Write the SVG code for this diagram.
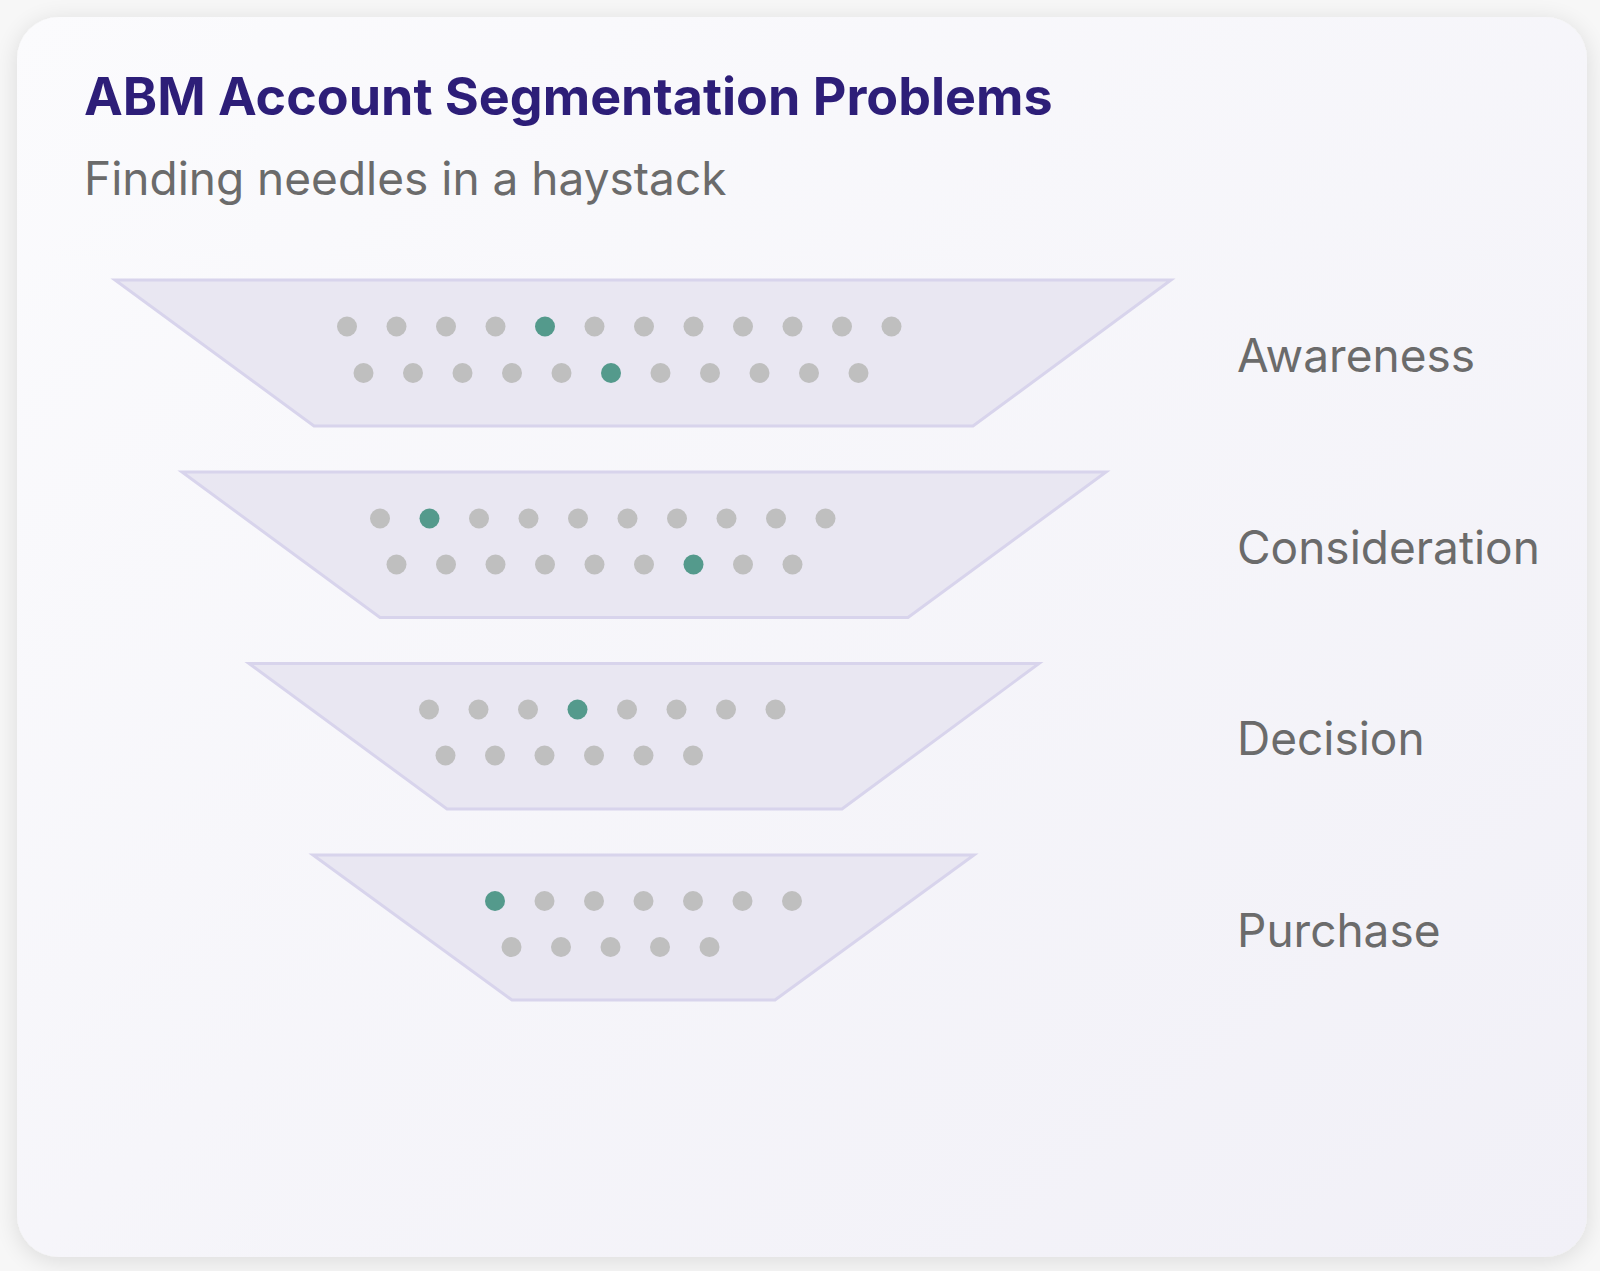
<svg xmlns="http://www.w3.org/2000/svg" width="1600" height="1271" viewBox="0 0 1600 1271">
<defs>
<linearGradient id="cardg" x1="0" y1="0" x2="1" y2="1">
<stop offset="0" stop-color="#fbfbfd"/>
<stop offset="1" stop-color="#f1f0f7"/>
</linearGradient>
<filter id="sh" x="-10%" y="-10%" width="120%" height="120%">
<feGaussianBlur in="SourceAlpha" stdDeviation="12"/>
<feOffset dx="0" dy="4" result="b"/>
<feComponentTransfer><feFuncA type="linear" slope="0.12"/></feComponentTransfer>
<feMerge><feMergeNode/><feMergeNode in="SourceGraphic"/></feMerge>
</filter>
</defs>
<style>
.funnel{fill:#e9e7f2;stroke:#d8d4ec;stroke-width:3;stroke-linejoin:miter}
.d{fill:#bfbfbf}
.t{fill:#549a8c}
.lbl{font-family:Inter,"Liberation Sans",sans-serif;font-size:46px;fill:#6b6b6b}
.title{font-family:Inter,"Liberation Sans",sans-serif;font-size:52px;font-weight:700;fill:#2d1e78}
.sub{font-family:Inter,"Liberation Sans",sans-serif;font-size:46px;fill:#6b6b6b}
</style>
<rect width="1600" height="1271" fill="#f7f7f7"/>
<rect x="17" y="17" width="1570" height="1240" rx="42" fill="url(#cardg)" filter="url(#sh)"/>
<text class="title" x="84" y="115">ABM Account Segmentation Problems</text>
<text class="sub" x="84" y="195">Finding needles in a haystack</text>

<g id="stage-awareness">
<polygon class="funnel" points="115,280 1171,280 973,426 314,426"/>
<g>
<circle class="d" cx="347" cy="326.5" r="10"/><circle class="d" cx="396.5" cy="326.5" r="10"/><circle class="d" cx="446" cy="326.5" r="10"/><circle class="d" cx="495.5" cy="326.5" r="10"/><circle class="t" cx="545" cy="326.5" r="10"/><circle class="d" cx="594.5" cy="326.5" r="10"/><circle class="d" cx="644" cy="326.5" r="10"/><circle class="d" cx="693.5" cy="326.5" r="10"/><circle class="d" cx="743" cy="326.5" r="10"/><circle class="d" cx="792.5" cy="326.5" r="10"/><circle class="d" cx="842" cy="326.5" r="10"/><circle class="d" cx="891.5" cy="326.5" r="10"/>
<circle class="d" cx="363.5" cy="373" r="10"/><circle class="d" cx="413" cy="373" r="10"/><circle class="d" cx="462.5" cy="373" r="10"/><circle class="d" cx="512" cy="373" r="10"/><circle class="d" cx="561.5" cy="373" r="10"/><circle class="t" cx="611" cy="373" r="10"/><circle class="d" cx="660.5" cy="373" r="10"/><circle class="d" cx="710" cy="373" r="10"/><circle class="d" cx="759.5" cy="373" r="10"/><circle class="d" cx="809" cy="373" r="10"/><circle class="d" cx="858.5" cy="373" r="10"/>
</g>
<text class="lbl" x="1237" y="372">Awareness</text>
</g>

<g id="stage-consideration">
<polygon class="funnel" points="182,472 1106,472 908,617.5 380,617.5"/>
<g>
<circle class="d" cx="380" cy="518.5" r="10"/><circle class="t" cx="429.5" cy="518.5" r="10"/><circle class="d" cx="479" cy="518.5" r="10"/><circle class="d" cx="528.5" cy="518.5" r="10"/><circle class="d" cx="578" cy="518.5" r="10"/><circle class="d" cx="627.5" cy="518.5" r="10"/><circle class="d" cx="677" cy="518.5" r="10"/><circle class="d" cx="726.5" cy="518.5" r="10"/><circle class="d" cx="776" cy="518.5" r="10"/><circle class="d" cx="825.5" cy="518.5" r="10"/>
<circle class="d" cx="396.5" cy="564.5" r="10"/><circle class="d" cx="446" cy="564.5" r="10"/><circle class="d" cx="495.5" cy="564.5" r="10"/><circle class="d" cx="545" cy="564.5" r="10"/><circle class="d" cx="594.5" cy="564.5" r="10"/><circle class="d" cx="644" cy="564.5" r="10"/><circle class="t" cx="693.5" cy="564.5" r="10"/><circle class="d" cx="743" cy="564.5" r="10"/><circle class="d" cx="792.5" cy="564.5" r="10"/>
</g>
<text class="lbl" x="1237" y="563.5">Consideration</text>
</g>

<g id="stage-decision">
<polygon class="funnel" points="249,663.5 1039,663.5 842,809 447,809"/>
<g>
<circle class="d" cx="429" cy="709.5" r="10"/><circle class="d" cx="478.5" cy="709.5" r="10"/><circle class="d" cx="528" cy="709.5" r="10"/><circle class="t" cx="577.5" cy="709.5" r="10"/><circle class="d" cx="627" cy="709.5" r="10"/><circle class="d" cx="676.5" cy="709.5" r="10"/><circle class="d" cx="726" cy="709.5" r="10"/><circle class="d" cx="775.5" cy="709.5" r="10"/>
<circle class="d" cx="445.5" cy="755.5" r="10"/><circle class="d" cx="495" cy="755.5" r="10"/><circle class="d" cx="544.5" cy="755.5" r="10"/><circle class="d" cx="594" cy="755.5" r="10"/><circle class="d" cx="643.5" cy="755.5" r="10"/><circle class="d" cx="693" cy="755.5" r="10"/>
</g>
<text class="lbl" x="1237" y="755">Decision</text>
</g>

<g id="stage-purchase">
<polygon class="funnel" points="313,855 974,855 775,1000 512,1000"/>
<g>
<circle class="t" cx="495" cy="901" r="10"/><circle class="d" cx="544.5" cy="901" r="10"/><circle class="d" cx="594" cy="901" r="10"/><circle class="d" cx="643.5" cy="901" r="10"/><circle class="d" cx="693" cy="901" r="10"/><circle class="d" cx="742.5" cy="901" r="10"/><circle class="d" cx="792" cy="901" r="10"/>
<circle class="d" cx="511.5" cy="947" r="10"/><circle class="d" cx="561" cy="947" r="10"/><circle class="d" cx="610.5" cy="947" r="10"/><circle class="d" cx="660" cy="947" r="10"/><circle class="d" cx="709.5" cy="947" r="10"/>
</g>
<text class="lbl" x="1237" y="947">Purchase</text>
</g>

<g id="connectors"/>
</svg>
